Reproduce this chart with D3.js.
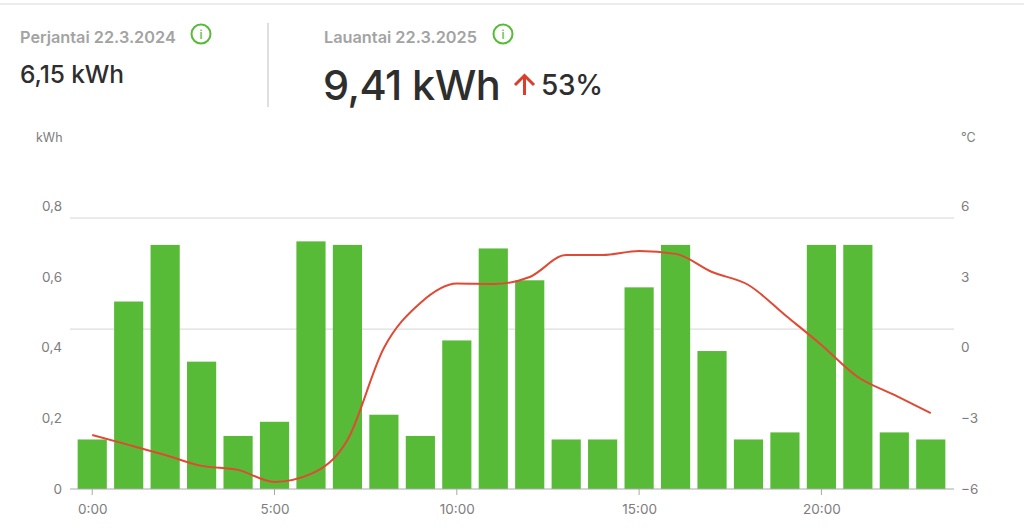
<!DOCTYPE html>
<html>
<head>
<meta charset="utf-8">
<script src="https://cdn.jsdelivr.net/npm/d3@7"></script>
<style>
body { margin: 0; background: #fff; }
text { font-family: Inter, "Noto Sans", sans-serif; }
.axis path, .axis line { stroke: none; }
.axis text { fill: #7d7d7d; font-size: 13.5px; font-family: Inter, sans-serif; }
</style>
</head>
<body>
<div class="chart"></div>
<script>
const width = 1024
const height = 530

const hours = d3.range(0, 24)
const kwh = [0.14, 0.53, 0.69, 0.36, 0.15, 0.19, 0.70, 0.69, 0.21, 0.15, 0.42, 0.68,
    0.59, 0.14, 0.14, 0.57, 0.69, 0.39, 0.14, 0.16, 0.69, 0.69, 0.16, 0.14]
const temps = [-3.71, -4.13, -4.56, -5.02, -5.19, -5.70, -5.36, -3.92, -0.02, 1.89, 2.71, 2.69,
    2.99, 3.92, 3.92, 4.09, 3.97, 3.20, 2.65, 1.38, 0.11, -1.25, -2.01, -2.78]
const kwhTicks = [0, 0.2, 0.4, 0.6, 0.8]
const tempTicks = [-6, -3, 0, 3, 6]
const hourTicks = [0, 5, 10, 15, 20]
const gridValues = [0.452, 0.766]

const svg = d3.select(".chart")
    .append("svg")
    .attr("width", width)
    .attr("height", height)
    .style("display", "block")

const xScale = d3.scaleBand()
    .domain(hours)
    .range([74, 949])
    .paddingInner(0.2)
    .paddingOuter(0.1)

const yScale = d3.scaleLinear()
    .domain([0, 0.8])
    .range([489, 206])

const tempScale = d3.scaleLinear()
    .domain([-6, 6])
    .range([489, 206])

const xMid = h => xScale(h) + xScale.bandwidth() / 2
const fi = n => String(n).replace(".", ",")

// header
svg.append("line")
    .attr("x1", 0).attr("x2", width)
    .attr("y1", 4).attr("y2", 4)
    .attr("stroke", "#ececec")
    .attr("stroke-width", 2)

svg.append("line")
    .attr("x1", 268).attr("x2", 268)
    .attr("y1", 23).attr("y2", 107)
    .attr("stroke", "#c8c8c8")
    .attr("stroke-width", 1.2)

function label(x, y, txt, size, color, weight) {
    return svg.append("text")
        .attr("x", x).attr("y", y)
        .attr("font-size", size)
        .attr("font-weight", weight || 400)
        .attr("fill", color)
        .text(txt)
}

function info(cx, cy) {
    svg.append("circle")
        .attr("cx", cx).attr("cy", cy).attr("r", 9.5)
        .attr("fill", "none")
        .attr("stroke", "#57bb37")
        .attr("stroke-width", 2)
    label(cx, cy + 4.5, "i", 12, "#57bb37", 500).attr("text-anchor", "middle")
}

label(20, 43, "Perjantai 22.3.2024", 16.3, "#a3a3a3", 600)
info(201, 34)
label(20, 83, "6,15 kWh", 24.5, "#2e2e2e", 500).attr("letter-spacing", -0.1)

label(324, 43, "Lauantai 22.3.2025", 16.3, "#a3a3a3", 600)
info(503, 34)
label(323, 100, "9,41 kWh", 41.5, "#2e2e2e", 500).attr("letter-spacing", -0.6)
label(541, 94.5, "53%", 28, "#2e2e2e", 500).attr("letter-spacing", -0.3)

svg.append("path")
    .attr("d", d3.line()([[524.5, 95], [524.5, 75]]))
    .attr("stroke", "#dd3d2b")
    .attr("stroke-width", 3)
    .attr("fill", "none")
svg.append("path")
    .attr("d", d3.line()([[515, 85], [524.5, 75.5], [534, 85]]))
    .attr("stroke", "#dd3d2b")
    .attr("stroke-width", 3)
    .attr("fill", "none")

// unit labels
label(36, 142, "kWh", 12.5, "#7d7d7d")
label(961, 142, "°C", 12.5, "#7d7d7d")

// gridlines
svg.selectAll(".grid")
    .data(gridValues)
    .join("line")
    .attr("class", "grid")
    .attr("x1", 70).attr("x2", 954)
    .attr("y1", d => yScale(d))
    .attr("y2", d => yScale(d))
    .attr("stroke", "#d6d6d6")
    .attr("stroke-width", 1)

// bars
svg.selectAll(".bar")
    .data(hours)
    .join("rect")
    .attr("class", "bar")
    .attr("x", h => xScale(h))
    .attr("y", h => yScale(kwh[h]))
    .attr("width", xScale.bandwidth())
    .attr("height", h => yScale(0) - yScale(kwh[h]))
    .attr("fill", "#57bb37")

// baseline and hour ticks
svg.append("line")
    .attr("x1", 70).attr("x2", 954)
    .attr("y1", 489).attr("y2", 489)
    .attr("stroke", "#a8a8a8")
    .attr("stroke-width", 1)

svg.selectAll(".tick-mark")
    .data(hourTicks)
    .join("line")
    .attr("class", "tick-mark")
    .attr("x1", xMid).attr("x2", xMid)
    .attr("y1", 489).attr("y2", 495)
    .attr("stroke", "#a8a8a8")

const hourAxis = d3.axisBottom(d3.scaleLinear().domain([0, 23]).range([xMid(0), xMid(23)]))
    .tickValues(hourTicks)
    .tickSize(0)
    .tickPadding(7)
    .tickFormat(d => d + ":00")

svg.append("g")
    .attr("class", "axis")
    .attr("transform", "translate(0,497)")
    .call(hourAxis)

const yAxis = d3.axisLeft(yScale)
    .tickValues(kwhTicks)
    .tickSize(0)
    .tickPadding(0)
    .tickFormat(fi)

svg.append("g")
    .attr("class", "axis")
    .attr("transform", "translate(62,0)")
    .call(yAxis)

const tempAxis = d3.axisRight(tempScale)
    .tickValues(tempTicks)
    .tickSize(0)
    .tickPadding(0)
    .tickFormat(d => String(d).replace("-", "−"))

svg.append("g")
    .attr("class", "axis")
    .attr("transform", "translate(961,0)")
    .call(tempAxis)

// temperature line
const tempLine = d3.line()
    .curve(d3.curveMonotoneX)
    .x((d, i) => xMid(hours[i]))
    .y(d => tempScale(d))

svg.append("path")
    .attr("d", tempLine(temps))
    .attr("fill", "none")
    .attr("stroke", "#e04a35")
    .attr("stroke-width", 2)
</script>
</body>
</html>
